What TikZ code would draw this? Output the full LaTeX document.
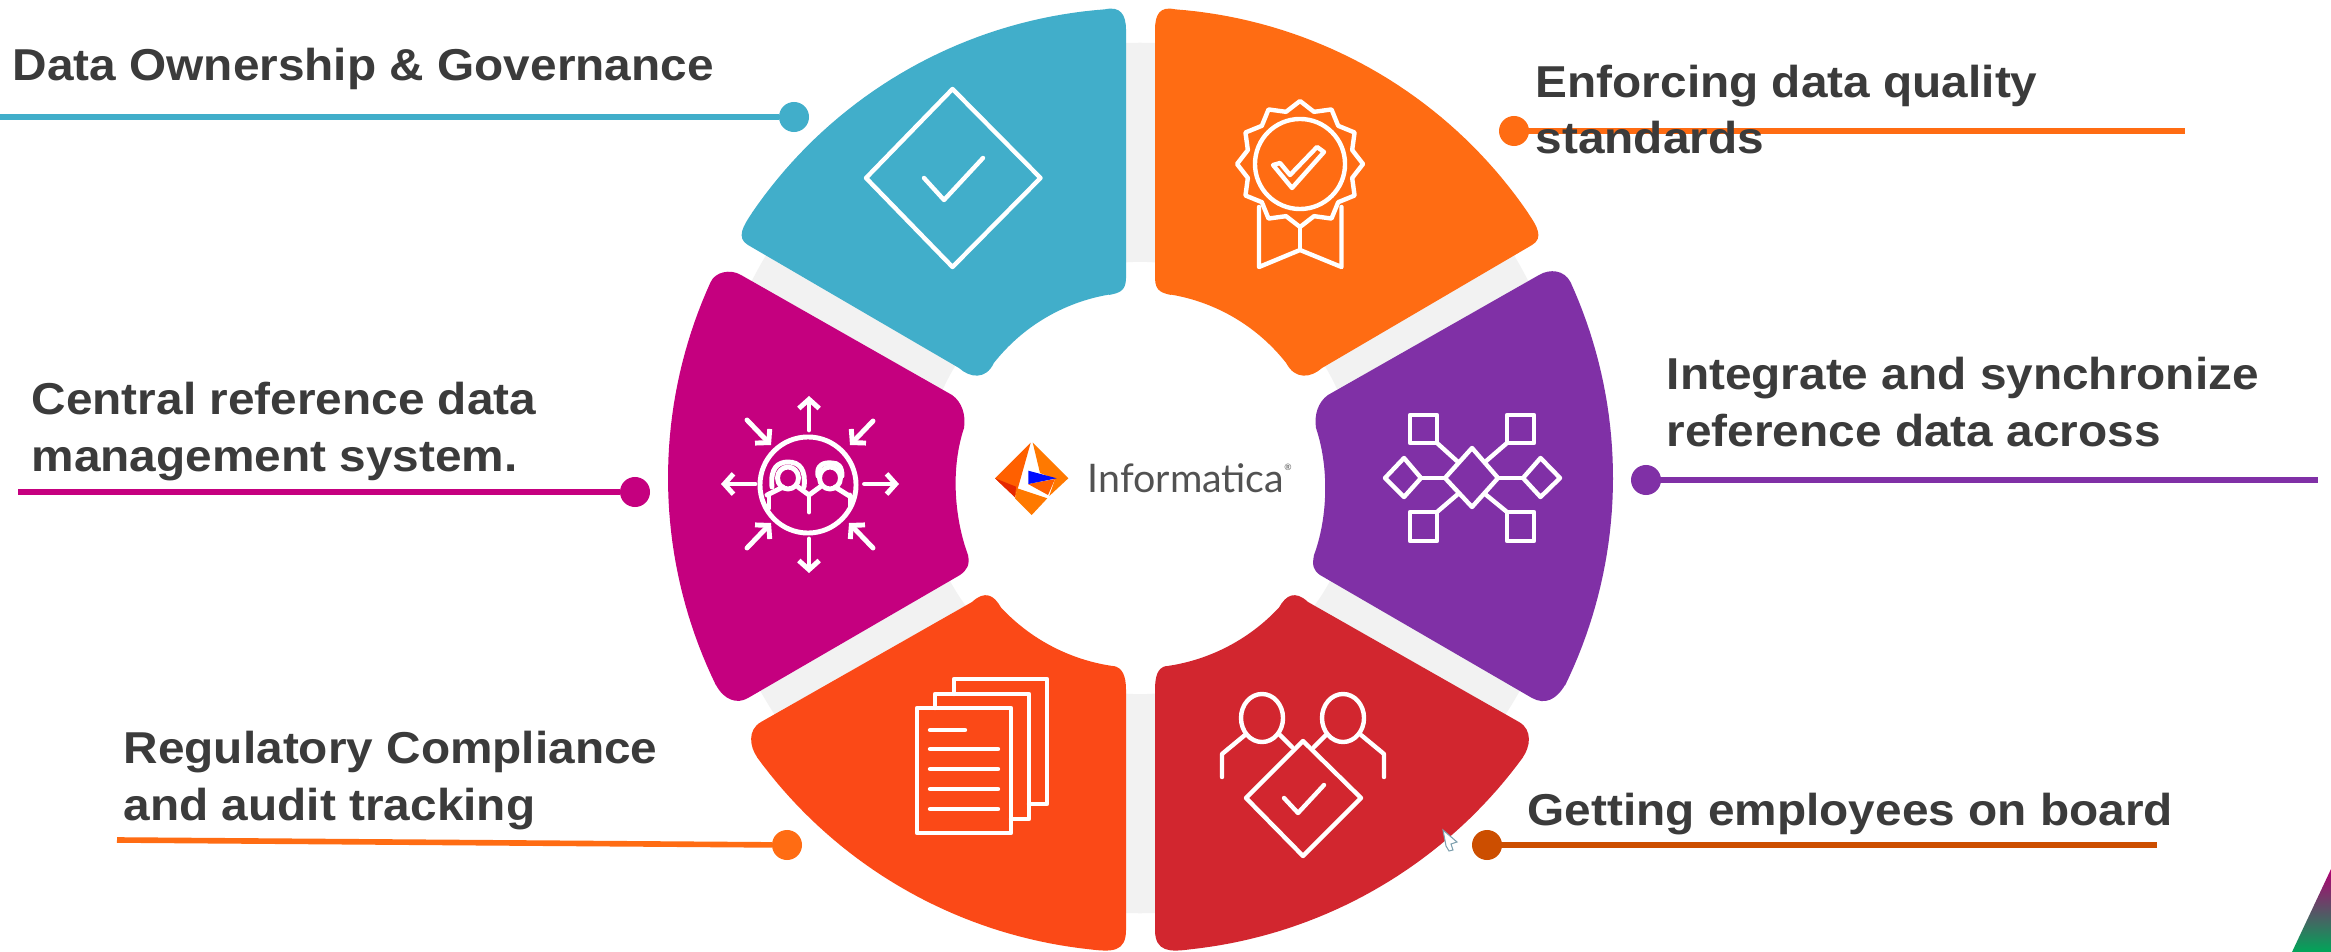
\documentclass[tikz,border=0pt]{standalone}
\usepackage{fontspec}
\setmainfont[FakeStretch=1.07]{Liberation Sans}
\newfontfamily\logofont{Lato}
\usetikzlibrary{arrows.meta}
\definecolor{cteal}{HTML}{41AECA}
\definecolor{corange}{HTML}{FF6C13}
\definecolor{cmagenta}{HTML}{C5007F}
\definecolor{cpurple}{HTML}{8030A6}
\definecolor{cflame}{HTML}{FB4917}
\definecolor{cred}{HTML}{D2262F}
\definecolor{cbrown}{HTML}{CC4E00}
\definecolor{cring}{HTML}{F2F2F2}
\definecolor{ctext}{HTML}{3B3B3B}
\definecolor{cmid}{HTML}{C8906A}
\tikzset{
  ic/.style={draw=white,line width=1.25pt,line join=round,line cap=round},
  im/.style={ic,line width=1.4pt},
  ia/.style={im,-{Straight Barb[length=2.6pt,width=5.8pt,line width=1.4pt]}},
  dotn/.style={circle,inner sep=0pt,outer sep=0pt,minimum size=0.3cm},
  lead/.style={line width=1.6pt},
  lab/.style={text=ctext,inner sep=0pt,align=left,anchor=base west,
    font=\fontsize{12.7pt}{16.2pt}\selectfont\bfseries},
  arcs/.style={domain=#1,samples=40,variable=\t},
}
\begin{document}
\begin{tikzpicture}[x=0.01cm,y=-0.01cm]
\useasboundingbox (0,0) rectangle (2331,952);
\fill[white] (0,0) rectangle (2331,952);
% grey ring
\fill[cring,even odd rule] (1140,478) circle[radius=4.35cm] (1140,478) circle[radius=2.16cm];
% segments
\fill[cteal] (1126,30) -- (1126,278) .. controls (1126,292) and (1118,293) .. (1109,295) -- plot[arcs=99.6:141.8] ({1140+186*cos(\t)},{478-186*sin(\t)}) .. controls (986,380) and (970,378) .. (959,368) -- (748,245) .. controls (736,238) and (743,226) .. (752,213) -- plot[arcs=145.7:94.3] ({1140+470*cos(\t)},{478-470*sin(\t)}) .. controls (1120,6) and (1126,14) .. (1126,30) -- cycle;
\fill[corange] (1155,30) -- (1155,278) .. controls (1155,292) and (1163,293) .. (1171,295) -- plot[arcs=80.4:38.2] ({1140+186*cos(\t)},{478-186*sin(\t)}) .. controls (1295,380) and (1311,378) .. (1322,368) -- (1532,245) .. controls (1544,238) and (1537,226) .. (1528,213) -- plot[arcs=34.3:85.7] ({1140+470*cos(\t)},{478-470*sin(\t)}) .. controls (1160,6) and (1155,14) .. (1155,30) -- cycle;
\fill[cmagenta] (741,275) -- (952,395) .. controls (962,402) and (966,415) .. (964,428) .. controls (950,470) and (955,520) .. (968,555) .. controls (970,565) and (967,570) .. (960,575) -- (748,698) .. controls (737,704.5) and (724,700) .. (716,685) -- plot[arcs=206:155.5] ({1140+472*cos(\t)},{478-472*sin(\t)}) .. controls (715,272) and (730,268.5) .. (741,275) -- cycle;
\fill[cpurple] (1539,275) -- (1328,395) .. controls (1318,402) and (1314,415) .. (1316,428) .. controls (1330,470) and (1327,520) .. (1314,555) .. controls (1312,565) and (1313,570) .. (1320,575) -- (1532,698) .. controls (1545,705) and (1556,700) .. (1565,685) -- plot[arcs=-26:24.5] ({1140+473*cos(\t)},{478-473*sin(\t)}) .. controls (1564,270) and (1550,268.5) .. (1539,275) -- cycle;
\fill[cflame] (972,602) -- (761,722) .. controls (747,730) and (750,747) .. (757,757) -- plot[arcs=216.1:264] ({1140+474*cos(\t)},{478-474*sin(\t)}) .. controls (1112,952) and (1126,952) .. (1126,930) -- (1126,690) .. controls (1126,675) and (1122,668) .. (1114,666) -- plot[arcs=262:223] ({1140+190*cos(\t)},{478-190*sin(\t)}) .. controls (994,595) and (985,590) .. (972,602) -- cycle;
\fill[cred] (1308,602) -- (1519,722) .. controls (1533,730) and (1530,747) .. (1523,757) -- plot[arcs=-36.1:-84] ({1140+474*cos(\t)},{478-474*sin(\t)}) .. controls (1170,952) and (1155,952) .. (1155,930) -- (1155,690) .. controls (1155,675) and (1158,668) .. (1166,666) -- plot[arcs=-82:-43] ({1140+190*cos(\t)},{478-190*sin(\t)}) .. controls (1286,595) and (1295,590) .. (1308,602) -- cycle;
% teal icon
\draw[ic] (952.5,89) -- (1040.5,178) -- (952.5,267) -- (866,178) -- cycle;
\draw[ic] (924,178) -- (944,200) -- (983,158);
% orange icon
\draw[ic] plot[domain=90:450,samples=25,variable=\t] ({1300+(58.5+4.5*cos(12*(\t-90)))*cos(\t)},{164-(58.5+4.5*cos(12*(\t-90)))*sin(\t)}) -- cycle;
\draw[ic] (1300,164) circle[radius=0.45cm];
\draw[ic] (1273,165) -- (1292,188) -- (1324,152) -- (1317,147) -- (1290,175) -- (1280,163) -- cycle;
\draw[ic] (1259,207) -- (1259,267) -- (1300,250) -- (1341.5,267) -- (1341.5,207);
\draw[ic] (1300,227) -- (1300,250);
% magenta icon
\draw[im] (808,485) circle[radius=0.48cm];
\draw[ia] (809,430) -- (809,396);
\draw[ia] (809,539) -- (809,573);
\draw[ia] (755,484) -- (721,484);
\draw[ia] (864.5,484) -- (899,484);
\draw[ia] (747,420) -- (771,445);
\draw[ia] (873,421) -- (850,445);
\draw[ia] (747,548) -- (771,523);
\draw[ia] (873,548) -- (849,523);
\draw[im] (772,487) .. controls (770,468) and (778,462) .. (788,462) .. controls (800,462) and (806,470) .. (804,487);
\draw[im] (788,478) ellipse[x radius=0.105cm,y radius=0.11cm];
\draw[im] (830,478) ellipse[x radius=0.105cm,y radius=0.11cm];
\draw[im] (818,476) .. controls (816,465) and (824,462) .. (832,463) .. controls (838,463) and (842,466) .. (842,476);
\draw[im] (767,495) -- (783,487);
\draw[im] (798,487) -- (809,495) -- (820,487);
\draw[im] (835,487) -- (851,497);
\draw[im] (809,495) -- (809,512);
\draw[im] (769,494) -- (769,508);
\draw[im] (850,495) -- (850,508);
% purple icon
\draw[ic] (1410,415) rectangle (1437,443);
\draw[ic] (1507,415) rectangle (1534,443);
\draw[ic] (1410,512) rectangle (1437,541);
\draw[ic] (1507,512) rectangle (1534,541);
\draw[ic] (1472,448) -- (1498,478) -- (1472,507) -- (1445,478) -- cycle;
\draw[ic] (1404,458) -- (1421,478) -- (1404,497) -- (1385,478) -- cycle;
\draw[ic] (1540.5,458) -- (1560,478) -- (1540.5,497) -- (1523,478) -- cycle;
\draw[ic] (1421,478) -- (1445,478);
\draw[ic] (1498,478) -- (1523,478);
\draw[ic] (1437,443) -- (1458,462);
\draw[ic] (1507,443) -- (1485,462);
\draw[ic] (1437,512) -- (1458,494);
\draw[ic] (1507,512) -- (1485,494);
% documents icon
\draw[ic] (917,708) rectangle (1011,833);
\draw[ic] (935,708) -- (935,694) -- (1029,694) -- (1029,819) -- (1011,819);
\draw[ic] (954,694) -- (954,679) -- (1047,679) -- (1047,804) -- (1029,804);
\draw[ic] (930,730) -- (965,730);
\draw[ic] (930,749) -- (998,749);
\draw[ic] (930,769) -- (998,769);
\draw[ic] (930,789) -- (998,789);
\draw[ic] (930,809) -- (998,809);
% people icon
\draw[ic] (1262,718) ellipse[x radius=0.21cm,y radius=0.24cm];
\draw[ic] (1343,718) ellipse[x radius=0.21cm,y radius=0.24cm];
\draw[ic] (1245,735) -- (1222,754) -- (1222,777);
\draw[ic] (1280,735) -- (1292,747);
\draw[ic] (1361,735) -- (1384,754) -- (1384,777);
\draw[ic] (1326,735) -- (1314,747);
\draw[ic] (1303,741) -- (1361,798) -- (1303,856) -- (1246,798) -- cycle;
\draw[ic] (1284,798) -- (1298,813) -- (1324,785);
% cursor
\fill[white,draw=gray!70!cyan,line width=0.3pt] (1443,830) -- (1457,842) -- (1451,844) -- (1453,850) -- (1449,851) -- (1446,846) -- cycle;
% logo
\fill[orange!75!red] (1030.7,442.7) -- (995,478.3) -- (1015,497.3) -- (1018.3,486.7) -- cycle;
\fill[red!65!orange!90!black] (995,478.3) -- (1016,486.7) -- (1015,497.3) -- cycle;
\fill[orange!95!red] (1017.3,488.3) -- (1047.3,498.3) -- (1031.7,515) -- (1015,498.3) -- cycle;
\fill[orange!95!red] (1032.7,442.7) -- (1068.3,478.3) -- (1049.3,496) -- (1055,479) -- (1040,473) -- cycle;
\fill[orange!75!red] (1028,484) -- (1048,495) -- (1055,479) -- cycle;
\fill[blue!95!cyan] (1028.3,470.7) -- (1056.7,478.3) -- (1028.3,484) -- cycle;
\node[inner sep=0pt,anchor=west,text=black!68,font=\logofont\fontsize{11.2pt}{12pt}\selectfont] (logotext) at (1087,478) {Informatica\raisebox{1.1ex}{\fontsize{2.5pt}{3pt}\selectfont ®}};
% leaders
\node[dotn,fill=cteal] (d1) at (794,117) {};
\coordinate (e1) at (0,117);
\draw[lead,cteal] (e1) -- (d1);
\node[dotn,fill=corange] (d2) at (1514,131) {};
\coordinate (e2) at (2185,131);
\draw[lead,corange] (d2) -- (e2);
\node[dotn,fill=cmagenta] (d3) at (635,492) {};
\coordinate (e3) at (18,492);
\draw[lead,cmagenta] (e3) -- (d3);
\node[dotn,fill=cpurple] (d4) at (1646,480) {};
\coordinate (e4) at (2318,480);
\draw[lead,cpurple] (d4) -- (e4);
\node[dotn,fill=corange] (d5) at (787,845) {};
\coordinate (e5) at (117,840);
\draw[lead,corange] (e5) -- (d5);
\node[dotn,fill=cbrown] (d6) at (1487,845) {};
\coordinate (e6) at (2157,845);
\draw[lead,cbrown] (d6) -- (e6);
% labels
\node[lab] (t1) at (12,81) {Data Ownership \& Governance};
\node[lab] (t2) at (1535,154) {Enforcing data quality\\standards};
\node[lab] (t3) at (31,471) {Central reference data\\management system.};
\node[lab] (t4) at (1666,446) {Integrate and synchronize\\reference data across};
\node[lab] (t5) at (123,820) {Regulatory Compliance\\and audit tracking};
\node[lab] (t6) at (1527,825) {Getting employees on board};
% corner of photo
\shade[top color=cmagenta!90!black,middle color=cmid,bottom color=teal!70!green] (2331,869) -- (2292,952) -- (2331,952) -- cycle;
\end{tikzpicture}
\end{document}
